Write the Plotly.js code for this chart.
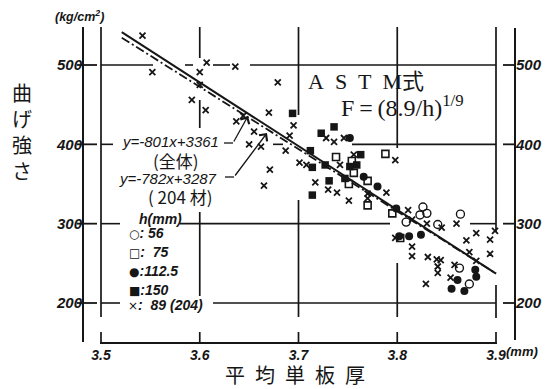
<!DOCTYPE html>
<html><head><meta charset="utf-8">
<script src="https://cdn.plot.ly/plotly-3.0.1.min.js"></script>
<style>html,body{margin:0;padding:0;background:#fff}</style>
</head><body><div id="chart" style="width:545px;height:389px"></div>
<script>
// ---- data ----
// h = 89 mm (204 specimens), crosses
const crossX = [3.542,3.552,3.607,3.636,3.600,3.600,3.592,3.606,3.644,3.637,3.670,3.655,3.650,3.662,3.671,3.665,3.679,3.695,3.691,3.687,3.701,3.728,3.736,3.746,3.742,3.756,3.798,3.708,3.717,3.730,3.739,3.751,3.770,3.770,3.789,3.811,3.830,3.845,3.860,3.798,3.815,3.815,3.831,3.840,3.844,3.841,3.841,3.829,3.858,3.854,3.870,3.880,3.873,3.880,3.894,3.894,3.899,3.815];
const crossY = [537,491,503,498,491,475,456,443,436,429,440,416,400,397,368,348,478,424,411,392,377,408,403,408,374,387,380,374,352,343,339,329,338,332,339,317,300,295,300,282,271,259,258,255,254,246,238,224,248,232,279,288,264,253,280,262,291,305];
// h = 150 mm, filled squares
const sq150X = [3.694,3.723,3.736,3.712,3.714,3.727,3.731,3.714,3.763,3.759,3.752,3.747];
const sq150Y = [439,414,422,392,371,374,354,336,387,374,372,357];
// h = 112.5 mm, filled circles
const ci112X = [3.752,3.766,3.780,3.799,3.802,3.812,3.824,3.855,3.868,3.880,3.879,3.861];
const ci112Y = [408,359,347,319,284,284,286,218,215,233,242,229];
// h = 75 mm, open squares
const sq75X = [3.738,3.788,3.754,3.756,3.770,3.751,3.770,3.795,3.803];
const sq75Y = [384,388,379,364,354,350,323,313,282];
// h = 56 mm, open circles
const ci56X = [3.826,3.823,3.830,3.809,3.841,3.864,3.863,3.873];
const ci56Y = [321,311,313,302,299,312,244,224];
// regression lines (end points)
const fitX = [3.521, 3.9];
const fitAllY = [541.5, 237.1];   // y=-801x+3361 (全体)
const fit204Y = [534.4, 237.2];   // y=-782x+3287 (204材)

const xTickVals = [3.5, 3.6, 3.7, 3.8, 3.9];
const xTickText = ['3.5', '3.6', '3.7', '3.8', '3.9'];
const yTickVals = [200, 300, 400, 500];
const yTickText = ['200', '300', '400', '500'];

// ---- geometry helpers (layout only) ----
const L = 83, R = 30, T = 27, B = 44, WID = 545, HEI = 389;
const PW = WID - L - R, PH = HEI - T - B;
const px = p => (p - L) / PW;
const py = p => (T + PH - p) / PH;
const X0 = 101, XS = 987.5, Y0 = 65, YS = 0.79333;
const xPix = v => X0 + (v - 3.5) * XS;
const yPix = v => Y0 + (500 - v) * YS;
const xr = [3.5 - (X0 - L) / XS, 3.5 + (L + PW - X0) / XS];
const yr = [500 - (T + PH - Y0) / YS, 500 + (Y0 - T) / YS];

const ink = '#161616';
const shapes = [];
function hl(yp, a, b, w) { shapes.push({type:'line', xref:'paper', yref:'paper', x0:px(a), x1:px(b), y0:py(yp), y1:py(yp), line:{color:ink, width:w || 1.6}}); }
function vl(xp, a, b, w) { shapes.push({type:'line', xref:'paper', yref:'paper', x0:px(xp), x1:px(xp), y0:py(a), y1:py(b), line:{color:ink, width:w || 1.6}}); }

// broken grid lines
const hGrid = {500:[[101,153],[185,193],[213,230],[250,496]], 400:[[101,113],[273,283],[352,496]], 300:[[101,120],[180,390],[470,496]], 200:[[101,120],[213,496]]};
const vGrid = {3.5:[[27,317],[332,343]], 3.6:[[27,58],[100,128],[212,296],[332,343]], 3.7:[[27,115],[200,317],[332,343]], 3.8:[[27,148],[263,317],[332,343]], 3.9:[[27,232],[285,318],[332,343]]};
Object.keys(hGrid).forEach(k => hGrid[k].forEach(s => hl(yPix(+k), s[0], s[1], 1.6)));
Object.keys(vGrid).forEach(k => vGrid[k].forEach(s => vl(xPix(+k), s[0], s[1], 1.7)));
hl(343, 100, 497, 1.8);
// outer scale lines and ticks
vl(83, 27, 342, 2);
vl(515, 28, 340, 2);
yTickVals.forEach(v => { hl(yPix(v), 77, 97, 1.8); hl(yPix(v), 503, 515, 1.8); });
// pointer lines
hl(143, 224, 233, 1.3);
hl(177, 225, 234, 1.3);

const sans = 'Liberation Sans';
const cjk = 'Noto Sans CJK JP';
const serif = 'Liberation Serif, Noto Sans CJK JP';
const bi = s => '<b><i>' + s + '</i></b>';
const it = s => '<i>' + s + '</i>';
const sym = s => '<span style="font-family:DejaVu Sans;font-size:12px">' + s + '</span>';
const ann = [];
function txt(x, y, text, font, extra) { ann.push(Object.assign({xref:'paper', yref:'paper', x:px(x), y:py(y), text:text, showarrow:false, font:font, xanchor:'center', yanchor:'middle', borderpad:0}, extra || {})); }
function arrow(tx, ty, fx, fy) { ann.push({xref:'paper', yref:'paper', x:px(tx), y:py(ty), ax:fx - tx, ay:fy - ty, text:'', showarrow:true, arrowhead:4, arrowsize:1.5, arrowwidth:1.3, arrowcolor:ink, standoff:0, startstandoff:0}); }

txt(79, 16, bi('(kg/cm<sup>2</sup>)'), {family:sans, size:12.5, color:ink});
txt(22, 131, '曲<br>げ<br>強<br>さ', {family:cjk, size:20, color:ink});
txt(295, 374, '平\u2002均\u2002単\u2002板\u2002厚', {family:cjk, size:20, color:ink});
txt(505, 351, bi('(mm)'), {family:sans, size:13, color:ink}, {xanchor:'left'});
txt(366, 82, 'A\u2002S\u2002T\u2002M式', {family:serif, size:22, color:ink});
txt(402, 106, 'F\u2009=\u2009(8.9/h)<sup>1/9</sup>', {family:serif, size:24, color:ink});
txt(170, 141, it('y=-801x+3361'), {family:sans, size:15, color:ink});
txt(176, 160, '(全体)', {family:cjk, size:17, color:ink});
txt(168, 178, it('y=-782x+3287'), {family:sans, size:15, color:ink});
txt(180, 196, '( 204 材)', {family:cjk, size:17, color:ink});
arrow(248, 116, 233, 143);
arrow(267, 133, 234, 177);
// key
const kf = {family:sans, size:14, color:ink};
txt(138, 219, bi('h(mm)'), kf, {xanchor:'left'});
txt(128, 233, sym('○') + bi(': 56'), kf, {xanchor:'left'});
txt(128, 252, sym('□') + bi(':  75'), kf, {xanchor:'left'});
txt(128, 271, sym('●') + bi(':112.5'), kf, {xanchor:'left'});
txt(128, 290, sym('■') + bi(':150'), kf, {xanchor:'left'});
txt(127, 305, sym('×') + bi(':  89 (204)'), kf, {xanchor:'left', bgcolor:'#fff'});

const base = {type:'scatter', mode:'markers', hoverinfo:'skip', showlegend:false, cliponaxis:false, yaxis:'y2'};
const traces = [
  {type:'scatter', mode:'lines', x:fitX, y:fitAllY, line:{color:ink, width:2}, hoverinfo:'skip', showlegend:false},
  {type:'scatter', mode:'lines', x:fitX, y:fit204Y, line:{color:ink, width:1.8, dash:'9px,3px,2px,3px'}, hoverinfo:'skip', showlegend:false},
  Object.assign({}, base, {name:'89 (204)', x:crossX, y:crossY, marker:{symbol:'x-thin', size:6, color:ink, line:{color:ink, width:1.8}}}),
  Object.assign({}, base, {name:'150', x:sq150X, y:sq150Y, marker:{symbol:'square', size:7.5, color:ink}}),
  Object.assign({}, base, {name:'112.5', x:ci112X, y:ci112Y, marker:{symbol:'circle', size:8, color:ink}}),
  Object.assign({}, base, {name:'75', x:sq75X, y:sq75Y, marker:{symbol:'square-open', size:7, color:ink, line:{color:ink, width:1.6}}}),
  Object.assign({}, base, {name:'56', x:ci56X, y:ci56Y, marker:{symbol:'circle-open', size:8, color:ink, line:{color:ink, width:1.4}}})
];

const tf = {family:sans, size:15, color:ink};
const layout = {
  width: WID, height: HEI,
  margin: {l:L, r:R, t:T, b:B, pad:0},
  paper_bgcolor:'#fff', plot_bgcolor:'rgba(0,0,0,0)',
  showlegend:false,
  xaxis: {range:xr, showgrid:false, zeroline:false, showline:false, ticks:'', tickmode:'array', tickvals:xTickVals, ticktext:xTickText.map(bi), tickfont:{family:sans, size:14, color:ink}, fixedrange:true},
  yaxis: {range:yr, showgrid:false, zeroline:false, showline:false, ticks:'', tickmode:'array', tickvals:yTickVals, ticktext:yTickText.map(bi), tickfont:tf, fixedrange:true},
  yaxis2: {range:yr, overlaying:'y', side:'right', anchor:'x', showgrid:false, zeroline:false, showline:false, ticks:'', tickmode:'array', tickvals:yTickVals, ticktext:yTickText.map(bi), tickfont:tf, fixedrange:true},
  shapes: shapes,
  annotations: ann
};
Plotly.newPlot('chart', traces, layout, {staticPlot:true, displayModeBar:false});
</script></body></html>
